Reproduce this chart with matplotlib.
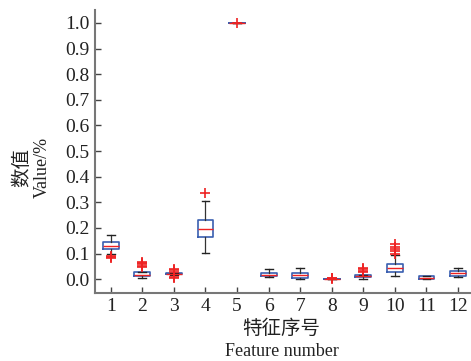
import numpy as np
import matplotlib.pyplot as plt

plt.rcParams['font.family'] = ['Liberation Serif', 'Noto Sans CJK SC']

features = list(range(1, 13))
med = [0.129, 0.018, 0.021, 0.195, 1.0, 0.018, 0.017, 0.001, 0.012, 0.044, 0.005, 0.023]
q1 = [0.117, 0.012, 0.019, 0.163, 1.0, 0.012, 0.005, 0.0, 0.007, 0.030, 0.0, 0.013]
q3 = [0.145, 0.027, 0.023, 0.230, 1.0, 0.026, 0.026, 0.002, 0.018, 0.059, 0.011, 0.031]
whislo = [0.100, 0.004, 0.017, 0.103, 1.0, 0.007, 0.0, 0.0, 0.0, 0.011, 0.0, 0.007]
whishi = [0.172, 0.027, 0.025, 0.306, 1.0, 0.039, 0.042, 0.002, 0.018, 0.096, 0.014, 0.042]
fliers = [
    [0.082, 0.088, 0.092],
    [0.047, 0.053, 0.058, 0.062, 0.066],
    [0.004, 0.010, 0.030, 0.035, 0.039],
    [0.335],
    [1.0],
    [],
    [],
    [0.0, 0.003, 0.005],
    [0.028, 0.033, 0.038, 0.042],
    [0.100, 0.110, 0.118, 0.126, 0.137],
    [],
    [],
]

stats = []
for i in range(len(features)):
    stats.append(dict(med=med[i], q1=q1[i], q3=q3[i], whislo=whislo[i],
                      whishi=whishi[i], fliers=fliers[i], label=str(features[i])))

fig = plt.figure(figsize=(4.71, 3.61), dpi=100)
ax = fig.add_axes([0.2017, 0.189, 0.7983, 0.783])

blue = '#3a5fb0'
red = '#ee2222'
ax.bxp(stats, positions=features, widths=0.5,
       boxprops=dict(color=blue, linewidth=1.2),
       medianprops=dict(color=red, linewidth=1.0),
       whiskerprops=dict(color='#333333', linewidth=0.9),
       capprops=dict(color='#222222', linewidth=1.0),
       flierprops=dict(marker='+', markeredgecolor=red, markersize=7, markeredgewidth=1.2))

ax.set_xlim(0.5, 12.41)
ax.set_ylim(-0.053, 1.05)
ax.set_yticks(np.arange(0, 1.01, 0.1))
ax.set_yticklabels(['%.1f' % v for v in np.arange(0, 1.01, 0.1)])
ax.set_xticks(features)
ax.set_xticklabels([str(f) for f in features])

for s in ['top', 'right']:
    ax.spines[s].set_visible(False)
for s in ['left', 'bottom']:
    ax.spines[s].set_color('#777777')
    ax.spines[s].set_linewidth(1.5)
ax.tick_params(direction='in', length=4, width=1, colors='#444444', labelcolor='#222222',
               labelsize=14, pad=4)

fig.text(0.047, 0.535, '数值', rotation=90, ha='center', va='center',
         fontsize=14, family=['Noto Sans CJK SC'], color='#222222')
fig.text(0.089, 0.535, 'Value/%', rotation=90, ha='center', va='center',
         fontsize=13, color='#222222')
fig.text(0.597, 0.089, '特征序号', ha='center', va='center',
         fontsize=14, family=['Noto Sans CJK SC'], color='#222222')
fig.text(0.599, 0.025, 'Feature number', ha='center', va='center',
         fontsize=13, color='#222222')

fig.savefig('out.png', dpi=100)
